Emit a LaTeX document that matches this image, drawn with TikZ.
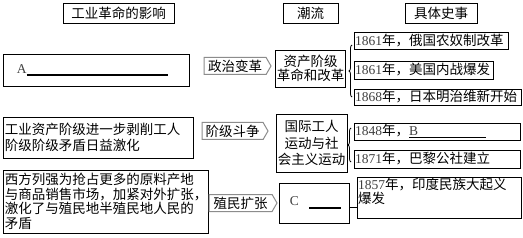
\documentclass[tikz,border=0pt]{standalone}
\usepackage{fontspec}
\setmainfont{Liberation Serif}
\newfontfamily\cjk{Noto Sans CJK SC}
\usetikzlibrary{shapes.symbols,decorations.pathreplacing}
\newcommand\lat[1]{{\rmfamily\color{black!75}#1}}

\begin{document}
\begin{tikzpicture}[x=1pt,y=-1pt,
  every node/.style={font=\cjk\fontsize{13.5}{14.5}\selectfont, inner sep=1pt, outer sep=0pt},
  box/.style={draw=black, line width=0.8pt, rectangle},
  tag/.style={signal, signal to=east, signal pointer angle=120, draw=black!45, line width=1pt, minimum height=17pt, inner xsep=3pt, anchor=west},
  ev/.style={box, anchor=west, align=left},
  brc/.style={decorate, decoration={brace, amplitude=3pt}, line width=0.8pt},
]
\fill[white] (0,0) rectangle (523,238);
\useasboundingbox (0,0) rectangle (523,238);

% headers
\node[box, minimum width=111pt, minimum height=20pt] (h1) at (118.5,13) {工业革命的影响};
\node[box, minimum width=55pt, minimum height=20pt] (h2) at (310.5,13) {潮流};
\node[box, minimum width=72pt, minimum height=20pt] (h3) at (441,13) {具体史事};

% row 1
\node[box, minimum width=186pt, minimum height=32pt, text width=182pt, align=left] (a) at (96,70) {\hspace*{12pt}\lat{A}\rule[-2.5pt]{141pt}{1.5pt}};
\node[tag, minimum width=67pt] (p1) at (204,66) {政治变革};
\node[box, minimum width=69pt, minimum height=37pt, align=center] (m1) at (310.5,68.5) {资产阶级\\革命和改革};
\node[ev, text width=152pt, minimum height=17pt] (e1) at (354,40.5) {\lat{1861}年，俄国农奴制改革};
\node[ev, text width=137pt, minimum height=18pt] (e2) at (354,70) {\lat{1861}年，美国内战爆发};
\node[ev, text width=165pt, minimum height=16pt] (e3) at (354,97) {\lat{1868}年，日本明治维新开始};
\draw[brc] (352,97) -- (352,45);

% row 2
\node[box, minimum width=190pt, minimum height=41pt, text width=186pt, align=left] (b) at (98,137.5) {工业资产阶级进一步剥削工人\\[2pt]阶级阶级矛盾日益激化};
\node[tag, minimum width=66pt] (p2) at (202,131) {阶级斗争};
\node[box, minimum width=71pt, minimum height=58pt, align=center] (m2) at (311.5,143) {国际工人\\[2pt]运动与社\\[2pt]会主义运动};
\node[ev, text width=164pt, minimum height=17pt] (e4) at (354,131.5) {\lat{1848}年，\rlap{\rule[-2.5pt]{77pt}{1.2pt}}\lat{B}};
\node[ev, text width=164pt, minimum height=18pt] (e5) at (354,159) {\lat{1871}年，巴黎公社建立};
\draw[brc] (351,162) -- (351,128);

% row 3
\node[box, minimum width=205pt, minimum height=63pt, text width=201pt, align=left] (c) at (105.5,201.5) {西方列强为抢占更多的原料产地\\与商品销售市场，加紧对外扩张\rlap{，}\\激化了与殖民地半殖民地人民的\\矛盾};
\node[tag, minimum width=68pt] (p3) at (209,203) {殖民扩张};
\node[box, minimum width=70pt, minimum height=40pt] (m3) at (314,203) {\hspace*{3pt}\lat{C}\hspace{10pt}\rule[-3pt]{32pt}{1.5pt}};
\node[box, anchor=north west] (e6) at (357,177) {\parbox[t][39pt][t]{162pt}{\raggedright\lat{1857}年，印度民族大起义\\爆发}};
\draw[line width=0.8pt] (m3.east |- 0,207) -- (e6.west |- 0,207);
\end{tikzpicture}
\end{document}
